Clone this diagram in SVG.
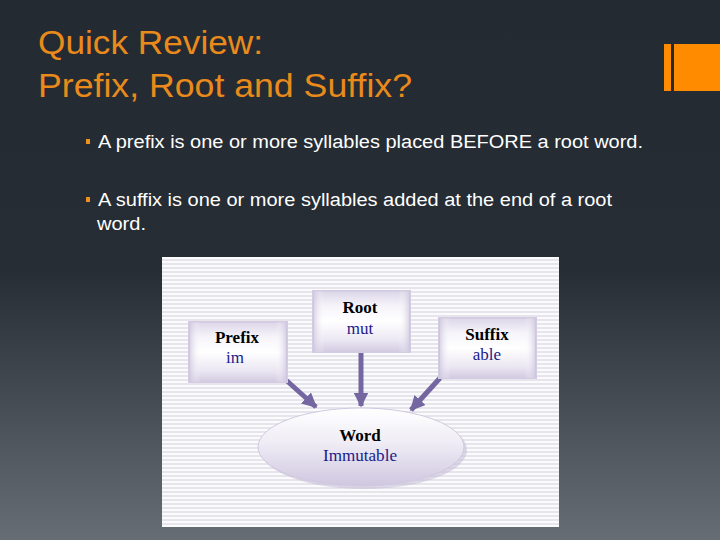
<svg xmlns="http://www.w3.org/2000/svg" width="720" height="540" viewBox="0 0 720 540">
<defs>
<linearGradient id="bg" x1="0" y1="0" x2="0" y2="1">
<stop offset="0" stop-color="#232a32"/>
<stop offset="0.5" stop-color="#262d35"/>
<stop offset="1" stop-color="#666d75"/>
</linearGradient>
<pattern id="stripes" x="0" y="257" width="8" height="4" patternUnits="userSpaceOnUse">
<rect width="8" height="4" fill="#fbfbfd"/>
<rect y="2" width="8" height="2" fill="#e7e5ec"/>
</pattern>
<linearGradient id="box" x1="0" y1="0" x2="0" y2="1">
<stop offset="0" stop-color="#dcd6e8"/>
<stop offset="0.25" stop-color="#f6f4fa"/>
<stop offset="0.5" stop-color="#ffffff"/>
<stop offset="0.8" stop-color="#ece8f3"/>
<stop offset="1" stop-color="#d2cbe1"/>
</linearGradient>
<linearGradient id="boxh" x1="0" y1="0" x2="1" y2="0">
<stop offset="0" stop-color="#cbc3dc" stop-opacity="0.8"/>
<stop offset="0.12" stop-color="#ffffff" stop-opacity="0"/>
<stop offset="0.88" stop-color="#ffffff" stop-opacity="0"/>
<stop offset="1" stop-color="#cbc3dc" stop-opacity="0.8"/>
</linearGradient>
<linearGradient id="ell" x1="0" y1="0" x2="0" y2="1">
<stop offset="0" stop-color="#ffffff"/>
<stop offset="0.45" stop-color="#efecf5"/>
<stop offset="1" stop-color="#cfc7e0"/>
</linearGradient>
<marker id="ah" viewBox="0 0 10 10" refX="9" refY="5" markerWidth="3" markerHeight="3" orient="auto" markerUnits="strokeWidth">
<path d="M0,0 L10,5 L0,10 z" fill="#7466a0"/>
</marker>
</defs>
<style>
.title{font-family:"Liberation Sans",Arial,sans-serif;font-size:33px;fill:#e98a1b}
.bul{font-family:"Liberation Sans",Arial,sans-serif;font-size:18px;fill:#ffffff}
.bx{fill:url(#box);stroke:#d3cce2;stroke-width:2}
.hd{font-family:"Liberation Serif","Times New Roman",serif;font-size:17px;font-weight:bold;fill:#000000;text-anchor:middle}
.sb{font-family:"Liberation Serif","Times New Roman",serif;font-size:17px;fill:#1a1a8a;text-anchor:middle}
.arr{stroke:#7466a0;stroke-width:5;fill:none;marker-end:url(#ah)}
</style>
<rect width="720" height="540" fill="url(#bg)"/>
<g id="title">
<text class="title" x="38" y="54" textLength="225" lengthAdjust="spacingAndGlyphs">Quick Review:</text>
<text class="title" x="38" y="97" textLength="374" lengthAdjust="spacingAndGlyphs">Prefix, Root and Suffix?</text>
</g>
<g id="deco">
<rect x="664" y="44" width="7" height="47" fill="#ff8c00"/>
<rect x="674" y="44" width="46" height="47" fill="#ff8c00"/>
</g>
<g id="bullets">
<rect x="86" y="139" width="4" height="5" fill="#f0901e"/>
<text class="bul" x="98" y="148" textLength="545" lengthAdjust="spacingAndGlyphs">A prefix is one or more syllables placed BEFORE a root word.</text>
<rect x="86" y="197" width="4" height="5" fill="#f0901e"/>
<text class="bul" x="98" y="206" textLength="514" lengthAdjust="spacingAndGlyphs">A suffix is one or more syllables added at the end of a root</text>
<text class="bul" x="97" y="230" textLength="49" lengthAdjust="spacingAndGlyphs">word.</text>
</g>
<rect x="162" y="257" width="397" height="270" fill="url(#stripes)"/>
<g id="connectors">
<line class="arr" x1="286" y1="380" x2="316" y2="407"/>
<line class="arr" x1="361" y1="352" x2="361" y2="406"/>
<line class="arr" x1="440" y1="378" x2="411" y2="410"/>
</g>
<g id="word">
<ellipse cx="364" cy="450" rx="103" ry="39" fill="#c8c0d8" opacity="0.6"/>
<ellipse cx="361" cy="447" rx="103" ry="39" fill="url(#ell)" stroke="#d0c9e0" stroke-width="1"/>
<text class="hd" x="360" y="441">Word</text>
<text class="sb" x="360" y="461" textLength="74" lengthAdjust="spacingAndGlyphs">Immutable</text>
</g>
<g id="prefix">
<rect class="bx" x="189" y="322" width="98" height="60"/>
<rect x="189" y="322" width="98" height="60" fill="url(#boxh)"/>
<text class="hd" x="237" y="343">Prefix</text>
<text class="sb" x="235" y="363">im</text>
</g>
<g id="root">
<rect class="bx" x="313" y="291" width="97" height="61"/>
<rect x="313" y="291" width="97" height="61" fill="url(#boxh)"/>
<text class="hd" x="360" y="313">Root</text>
<text class="sb" x="360" y="334">mut</text>
</g>
<g id="suffix">
<rect class="bx" x="439" y="318" width="97" height="60"/>
<rect x="439" y="318" width="97" height="60" fill="url(#boxh)"/>
<text class="hd" x="487" y="340">Suffix</text>
<text class="sb" x="487" y="360">able</text>
</g>
</svg>
